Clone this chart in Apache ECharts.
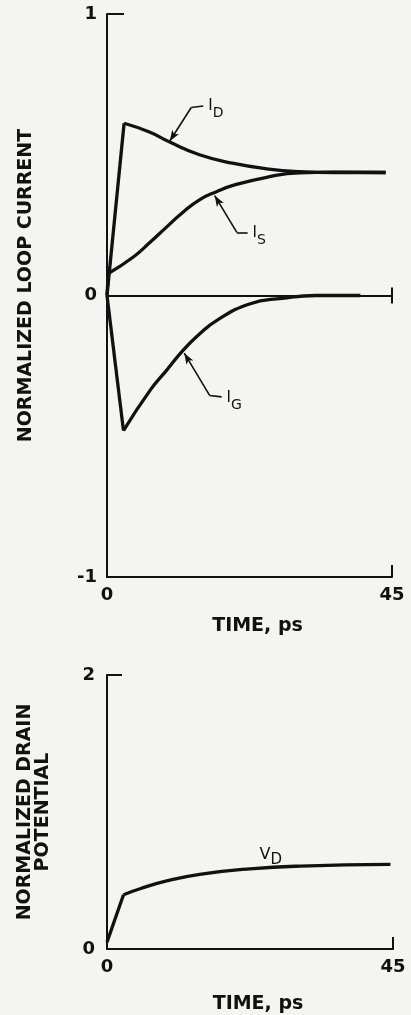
<!DOCTYPE html>
<html>
<head>
<meta charset="utf-8">
<script src="https://cdn.jsdelivr.net/npm/echarts@6/dist/echarts.min.js"></script>
<style>
html,body{margin:0;padding:0;background:#f4f4f2;}
#c{width:411px;height:1015px;}
</style>
</head>
<body>
<div id="c"></div>
<script>
// ---- data ----
const timeID = [0, 2.7, 6.8, 9.9, 14.6, 19.8, 25.2, 30.4, 36, 44];
const valID  = [0, 0.612, 0.58, 0.545, 0.50, 0.47, 0.45, 0.44, 0.437, 0.437];

const timeIS = [0, 0.2, 4.1, 6.8, 9.4, 12, 14.6, 17.2, 19.9, 25.2, 30.4, 36, 44];
const valIS  = [0, 0.078, 0.136, 0.189, 0.243, 0.296, 0.34, 0.368, 0.391, 0.42, 0.436, 0.438, 0.437];

const timeIG = [0, 2.6, 6.8, 9.4, 12, 14.6, 17.3, 22.5, 27.7, 33, 40];
const valIG  = [0, -0.48, -0.337, -0.266, -0.195, -0.137, -0.089, -0.03, -0.01, 0, 0];

const timeVD = [0, 2.6, 5.2, 9.4, 14.6, 22.5, 30.4, 44.6];
const valVD  = [0.05, 0.396, 0.44, 0.497, 0.545, 0.585, 0.605, 0.617];

const xTickLabels = [0, 45];
const yTickLabelsTop = [-1, 0, 1];
const yTickLabelsBottom = [0, 2];

const pairs = (t, v) => t.map((x, i) => [x, v[i]]);

const INK = '#111';
const FONT = 'DejaVu Sans';

const richSub = {
  i: {fontFamily: FONT, fontSize: 15, color: INK, lineHeight: 14, verticalAlign: 'top'},
  s: {fontFamily: FONT, fontSize: 14, color: INK, lineHeight: 21, verticalAlign: 'bottom'}
};

function leader(tip, elbow, end, sub) {
  return {
    silent: true,
    animation: false,
    symbol: 'none',
    lineStyle: {color: INK, width: 1.6, type: 'solid'},
    data: [
      [{coord: tip, symbol: 'arrow', symbolSize: [6, 11]}, {coord: elbow, symbol: 'none'}],
      [{coord: elbow, symbol: 'none'}, {coord: end, symbol: 'none',
        label: {show: true, position: 'end', distance: 5, offset: [0, 4], formatter: '{i|I}{s|' + sub + '}', rich: richSub}}]
    ],
    label: {show: false}
  };
}

function xAxisCfg(gridIndex, nameGap) {
  return {
    type: 'value', gridIndex, min: 0, max: 45,
    name: 'TIME, ps', nameLocation: 'middle', nameGap,
    nameTextStyle: {fontFamily: FONT, fontWeight: 'bold', fontSize: 19, color: INK, padding: [0, 0, 0, 16]},
    axisLine: {onZero: false, lineStyle: {color: INK, width: 2}},
    axisTick: {show: true, inside: true, length: 12, customValues: [45], lineStyle: {color: INK, width: 2}},
    axisLabel: {customValues: xTickLabels, margin: 9, fontFamily: FONT, fontWeight: 'bold', fontSize: 18, color: INK},
    splitLine: {show: false}
  };
}

// a curve = straight initial jump (head) + smooth relaxation (tail)
function curve(name, t, v, k, gi, extra) {
  const d = pairs(t, v);
  const base = {type: 'line', xAxisIndex: gi, yAxisIndex: gi, showSymbol: false, symbol: 'none',
    lineStyle: {color: INK, width: 3.3}, z: 3, clip: false};
  return [
    Object.assign({}, base, {name: name + '-rise', data: d.slice(0, k + 1), smooth: false}),
    Object.assign({}, base, {name: name, data: d.slice(k), smooth: 0.5}, extra || {})
  ];
}

const chart = echarts.init(document.getElementById('c'), null, {renderer: 'canvas'});
chart.setOption({
  backgroundColor: '#f4f4f2',
  animation: false,
  grid: [
    {left: 107, right: 19, top: 14, height: 563},
    {left: 107, right: 18, top: 675, height: 279}
  ],
  xAxis: [xAxisCfg(0, 40), xAxisCfg(1, 46)],
  yAxis: [
    {
      type: 'value', gridIndex: 0, min: -1, max: 1,
      name: 'NORMALIZED LOOP CURRENT', nameLocation: 'middle', nameGap: 71,
      nameTextStyle: {fontFamily: FONT, fontWeight: 'bold', fontSize: 19, color: INK, padding: [0, 0, 0, 20]},
      axisLine: {onZero: false, lineStyle: {color: INK, width: 2}},
      axisTick: {show: true, inside: true, length: 17, customValues: [1], lineStyle: {color: INK, width: 2}},
      axisLabel: {customValues: yTickLabelsTop, margin: 10, fontFamily: FONT, fontWeight: 'bold', fontSize: 18, color: INK},
      splitLine: {show: false}
    },
    {
      type: 'value', gridIndex: 1, min: 0, max: 2,
      name: 'NORMALIZED DRAIN\nPOTENTIAL', nameLocation: 'middle', nameGap: 55,
      nameTextStyle: {fontFamily: FONT, fontWeight: 'bold', fontSize: 19, lineHeight: 18, color: INK, align: 'center'},
      axisLine: {onZero: false, lineStyle: {color: INK, width: 2}},
      axisTick: {show: true, inside: true, length: 15, customValues: [2], lineStyle: {color: INK, width: 2}},
      axisLabel: {customValues: yTickLabelsBottom, margin: 12, fontFamily: FONT, fontWeight: 'bold', fontSize: 18, color: INK},
      splitLine: {show: false}
    }
  ],
  series: [].concat(
    curve('ID', timeID, valID, 1, 0, {markLine: leader([9.9, 0.548], [13.3, 0.668], [15.2, 0.673], 'D')}),
    curve('IS', timeIS, valIS, 1, 0, {markLine: leader([17.0, 0.355], [20.5, 0.224], [22.2, 0.224], 'S')}),
    curve('IG', timeIG, valIG, 1, 0, {markLine: leader([12.2, -0.205], [16.2, -0.355], [18.1, -0.36], 'G')}),
    [{
      name: 'zero', type: 'line', xAxisIndex: 0, yAxisIndex: 0,
      data: [], showSymbol: false,
      markLine: {
        silent: true, animation: false, symbol: 'none',
        lineStyle: {color: INK, width: 2, type: 'solid'},
        label: {show: false},
        data: [
          [{coord: [0, 0]}, {coord: [45, 0]}],
          [{coord: [45, -0.028]}, {coord: [45, 0.028]}]
        ]
      }
    }],
    curve('VD', timeVD, valVD, 1, 1, {
      markPoint: {
        silent: true, animation: false, symbol: 'circle', symbolSize: 0,
        data: [{coord: [24.0, 0.69]}],
        label: {show: true, position: 'right', distance: 0, offset: [0, 3], formatter: '{i|V}{s|D}',
          rich: {
            i: {fontFamily: FONT, fontSize: 16, color: INK, lineHeight: 14, verticalAlign: 'top'},
            s: {fontFamily: FONT, fontSize: 15, color: INK, lineHeight: 21, verticalAlign: 'bottom'}
          }}
      }
    })
  )
});
</script>
</body>
</html>
